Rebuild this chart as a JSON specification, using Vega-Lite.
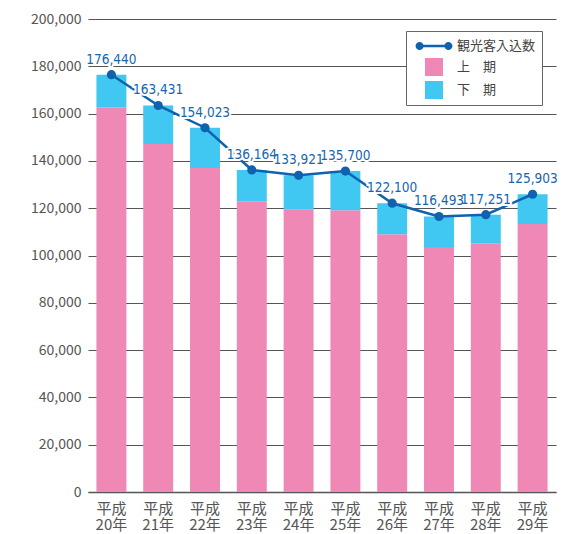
{
  "$schema": "https://vega.github.io/schema/vega-lite/v6.json",
  "width": 468,
  "height": 473,
  "autosize": "none",
  "padding": {"left": 88, "top": 19, "right": 26, "bottom": 42},
  "background": "white",
  "config": {"view": {"stroke": null}, "font": "Noto Sans CJK JP"},
  "datasets": {
    "bars": [
      {"年": "平成20年", "期": "上　期", "値": 162600},
      {"年": "平成20年", "期": "下　期", "値": 13840},
      {"年": "平成21年", "期": "上　期", "値": 147100},
      {"年": "平成21年", "期": "下　期", "値": 16331},
      {"年": "平成22年", "期": "上　期", "値": 137000},
      {"年": "平成22年", "期": "下　期", "値": 17023},
      {"年": "平成23年", "期": "上　期", "値": 122900},
      {"年": "平成23年", "期": "下　期", "値": 13264},
      {"年": "平成24年", "期": "上　期", "値": 119300},
      {"年": "平成24年", "期": "下　期", "値": 14621},
      {"年": "平成25年", "期": "上　期", "値": 119100},
      {"年": "平成25年", "期": "下　期", "値": 16600},
      {"年": "平成26年", "期": "上　期", "値": 109000},
      {"年": "平成26年", "期": "下　期", "値": 13100},
      {"年": "平成27年", "期": "上　期", "値": 103200},
      {"年": "平成27年", "期": "下　期", "値": 13293},
      {"年": "平成28年", "期": "上　期", "値": 105000},
      {"年": "平成28年", "期": "下　期", "値": 12251},
      {"年": "平成29年", "期": "上　期", "値": 113300},
      {"年": "平成29年", "期": "下　期", "値": 12603}
    ],
    "total": [
      {"年": "平成20年", "観光客入込数": 176440},
      {"年": "平成21年", "観光客入込数": 163431},
      {"年": "平成22年", "観光客入込数": 154023},
      {"年": "平成23年", "観光客入込数": 136164},
      {"年": "平成24年", "観光客入込数": 133921},
      {"年": "平成25年", "観光客入込数": 135700},
      {"年": "平成26年", "観光客入込数": 122100},
      {"年": "平成27年", "観光客入込数": 116493},
      {"年": "平成28年", "観光客入込数": 117251},
      {"年": "平成29年", "観光客入込数": 125903}
    ]
  },
  "encoding": {
    "x": {
      "field": "年",
      "type": "nominal",
      "sort": null,
      "scale": {"paddingInner": 0.36, "paddingOuter": 0.18},
      "axis": {
        "title": null,
        "labelExpr": "[slice(datum.label,0,2), slice(datum.label,2)]",
        "labelAngle": 0,
        "ticks": false,
        "grid": false,
        "domainColor": "#555555",
        "domainWidth": 1.5,
        "labelFont": "Noto Sans CJK JP",
        "labelFontSize": 15,
        "labelColor": "#555555",
        "labelPadding": 9,
        "labelLineHeight": 16
      }
    },
    "y": {
      "type": "quantitative",
      "scale": {"domain": [0, 200000], "nice": false},
      "axis": {
        "title": null,
        "values": [0, 20000, 40000, 60000, 80000, 100000, 120000, 140000, 160000, 180000, 200000],
        "format": ",d",
        "domain": false,
        "ticks": false,
        "grid": true,
        "gridColor": "#555555",
        "gridWidth": 1.1,
        "labelFont": "Noto Sans CJK JP",
        "labelFontSize": 14,
        "labelColor": "#555555",
        "labelPadding": 7
      }
    }
  },
  "layer": [
    {
      "data": {"name": "bars"},
      "mark": {"type": "bar"},
      "encoding": {
        "y": {"field": "値", "type": "quantitative", "stack": "zero"},
        "order": {"field": "期", "sort": "ascending"},
        "color": {
          "field": "期",
          "type": "nominal",
          "scale": {
            "domain": ["観光客入込数", "上　期", "下　期"],
            "range": ["#0E62AE", "#F088B5", "#40C8F2"]
          },
          "legend": {
            "title": null,
            "orient": "none",
            "legendX": 318,
            "legendY": 12,
            "padding": 6,
            "strokeColor": "#666666",
            "fillColor": "white",
            "symbolSize": 324,
            "symbolType": "square",
            "symbolOffset": 13,
            "symbolStrokeWidth": 0,
            "labelOffset": 14,
            "labelFont": "Noto Sans CJK JP",
            "labelFontSize": 13,
            "labelColor": "#444444",
            "rowPadding": 5,
            "encode": {
              "symbols": {
                "update": {
                  "shape": {"signal": "datum.value === '観光客入込数' ? 'M-1.6,-0.15H1.6V0.15H-1.6Z M-2.05,0A0.45,0.45,0,1,1,-1.15,0A0.45,0.45,0,1,1,-2.05,0Z M1.15,0A0.45,0.45,0,1,1,2.05,0A0.45,0.45,0,1,1,1.15,0Z' : 'square'"},
                  "fill": {"scale": "color", "field": "value"},
                  "opacity": {"value": 1}
                }
              }
            }
          }
        }
      }
    },
    {
      "data": {"name": "total"},
      "mark": {"type": "line", "strokeWidth": 2.5},
      "encoding": {
        "y": {"field": "観光客入込数", "type": "quantitative"},
        "color": {"datum": "観光客入込数"}
      }
    },
    {
      "data": {"name": "total"},
      "mark": {"type": "point", "filled": true, "size": 85, "opacity": 1},
      "encoding": {
        "y": {"field": "観光客入込数", "type": "quantitative"},
        "color": {"datum": "観光客入込数"}
      }
    },
    {
      "data": {"name": "total"},
      "mark": {"type": "text", "dy": -11, "baseline": "alphabetic", "font": "DejaVu Sans Condensed, Roboto", "fontSize": 13.5, "fill": "white", "stroke": "white", "strokeWidth": 4},
      "encoding": {
        "y": {"field": "観光客入込数", "type": "quantitative"},
        "text": {"field": "観光客入込数", "type": "quantitative", "format": ",d"}
      }
    },
    {
      "data": {"name": "total"},
      "mark": {"type": "text", "dy": -11, "baseline": "alphabetic", "font": "DejaVu Sans Condensed, Roboto", "fontSize": 13.5, "color": "#1565B0"},
      "encoding": {
        "y": {"field": "観光客入込数", "type": "quantitative"},
        "text": {"field": "観光客入込数", "type": "quantitative", "format": ",d"}
      }
    }
  ]
}
